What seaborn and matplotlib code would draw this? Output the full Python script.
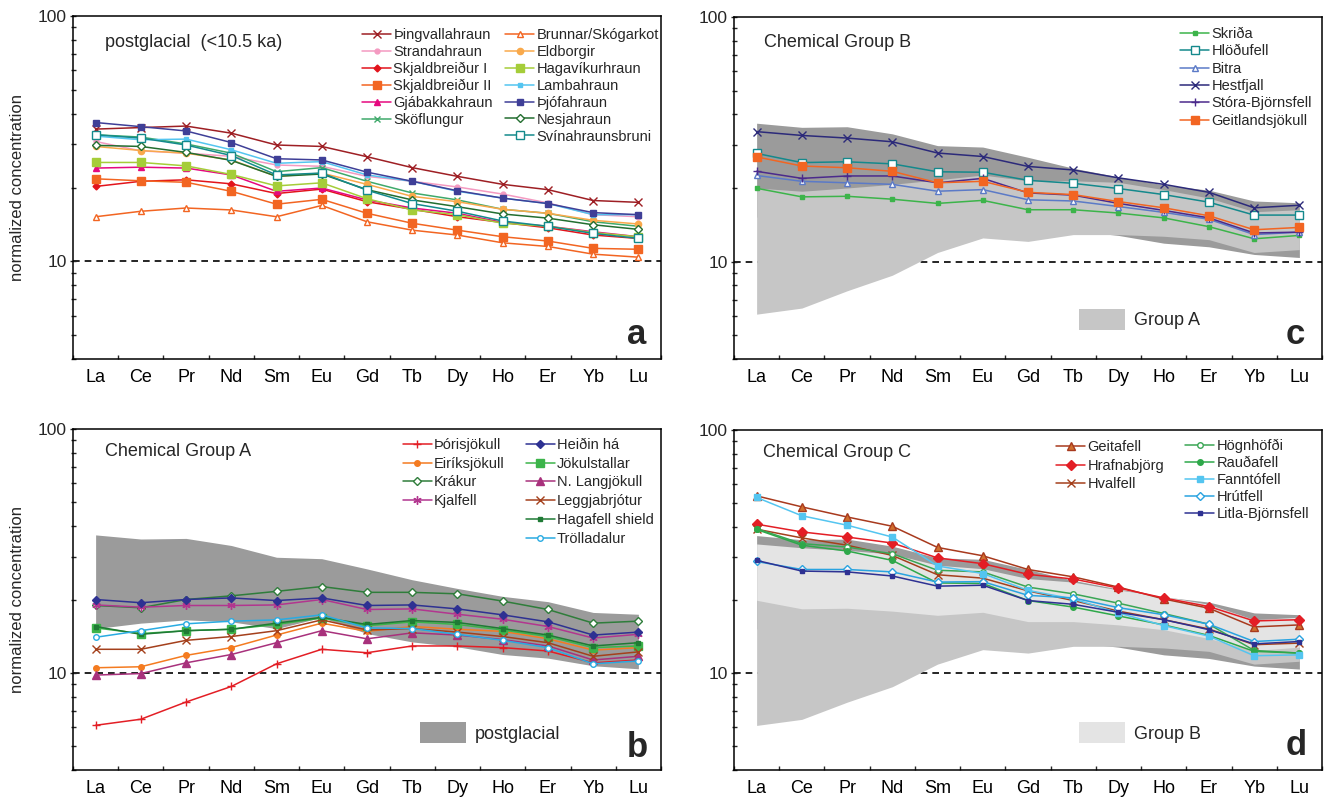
import numpy as np
import matplotlib
matplotlib.use("Agg")
import matplotlib.pyplot as plt
import seaborn as sns
from matplotlib.legend import Legend
from matplotlib.patches import Patch
from matplotlib.ticker import LogLocator, NullFormatter, FuncFormatter

# ---------------- data ----------------
ree = ["La", "Ce", "Pr", "Nd", "Sm", "Eu", "Gd", "Tb", "Dy", "Ho", "Er", "Yb", "Lu"]

# panel a: postglacial (<10.5 ka)
thingvallahraun = [34.6, 35.1, 35.6, 33.3, 29.8, 29.4, 26.7, 24.1, 22.2, 20.6, 19.6, 17.7, 17.4]
strandahraun = [30.8, 28.2, 27.6, 26.8, 24.7, 24.4, 22.2, 21.2, 20.1, 18.8, 17.3, 15.5, 15.2]
skjaldbreidur_1 = [20.2, 21.2, 21.5, 20.7, 18.9, 19.7, 17.5, 16.3, 15.2, 14.4, 13.7, 12.8, 12.4]
skjaldbreidur_2 = [21.7, 21.3, 21.0, 19.3, 17.1, 17.9, 15.7, 14.3, 13.4, 12.6, 12.1, 11.3, 11.2]
gjabakkahraun = [24.0, 24.2, 24.0, 22.5, 19.3, 19.9, 17.8, 16.5, 15.7, 14.4, 13.9, 13.2, 12.6]
skoflungur = [32.8, 32.1, 30.1, 27.6, 23.2, 24.1, 21.2, 19.0, 17.8, 16.3, 15.7, 14.5, 13.9]
brunnar = [15.2, 16.0, 16.5, 16.2, 15.2, 16.9, 14.5, 13.4, 12.8, 11.9, 11.5, 10.7, 10.4]
eldborgir = [29.4, 28.3, 27.6, 25.9, 22.2, 22.9, 20.6, 18.4, 17.5, 16.3, 15.7, 14.7, 14.2]
hagavikurhraun = [25.3, 25.3, 24.5, 22.6, 20.3, 20.9, 18.0, 16.2, 15.5, 14.3, 13.9, 13.1, 12.6]
lambahraun = [32.4, 31.3, 31.5, 28.5, 25.1, 25.5, 22.5, 21.2, 19.3, 18.1, 17.2, 15.5, 15.5]
thjofahraun = [36.8, 35.4, 34.0, 30.5, 26.2, 25.9, 23.1, 21.2, 19.4, 18.1, 17.2, 15.8, 15.5]
nesjahraun = [29.7, 29.4, 27.8, 25.8, 22.2, 22.7, 19.6, 17.8, 16.7, 15.6, 15.0, 14.1, 13.5]
svinahraunsbruni = [32.8, 31.8, 29.8, 27.0, 22.5, 22.9, 19.5, 17.2, 16.0, 14.6, 13.9, 13.0, 12.4]

# panel b: chemical group A
thorisjokull = [6.1, 6.46, 7.6, 8.8, 10.9, 12.5, 12.1, 12.9, 12.9, 12.7, 12.3, 11.0, 11.3]
eiriksjokull = [10.5, 10.6, 11.8, 12.7, 14.3, 16.0, 14.8, 15.5, 15.1, 14.8, 13.8, 12.4, 12.7]
krakur = [18.9, 18.5, 20.0, 20.7, 21.6, 22.6, 21.4, 21.4, 21.1, 19.7, 18.2, 16.0, 16.3]
kjalfell = [19.0, 18.6, 18.9, 18.9, 19.0, 20.0, 18.2, 18.3, 17.4, 16.6, 15.5, 13.9, 14.4]
heidin_ha = [20.0, 19.4, 20.0, 20.3, 19.8, 20.3, 18.9, 19.0, 18.3, 17.3, 16.2, 14.3, 14.7]
jokulstallar = [15.3, 14.5, 14.9, 15.1, 15.8, 16.8, 15.6, 16.2, 15.8, 15.0, 14.1, 12.7, 12.9]
n_langjokull = [9.8, 9.94, 11.0, 11.9, 13.3, 14.9, 13.8, 14.6, 14.3, 13.7, 12.9, 11.3, 11.7]
leggjabrjotur = [12.5, 12.5, 13.6, 14.1, 14.9, 16.5, 15.0, 15.2, 14.7, 14.1, 13.3, 11.7, 12.2]
hagafell_shield = [15.5, 14.4, 14.9, 15.1, 16.0, 16.9, 15.8, 16.4, 16.1, 15.2, 14.3, 12.9, 13.3]
trolladalur = [14.0, 14.9, 15.9, 16.3, 16.5, 17.3, 15.3, 15.2, 14.4, 13.6, 12.7, 10.9, 11.2]

# panel c: chemical group B
skrida = [19.95, 18.4, 18.5, 18.0, 17.3, 17.8, 16.3, 16.3, 15.8, 15.1, 13.9, 12.4, 12.8]
hlodufell = [27.7, 25.4, 25.6, 25.1, 23.3, 23.2, 21.5, 20.9, 19.9, 18.8, 17.5, 15.5, 15.5]
bitra = [22.5, 21.3, 21.0, 20.7, 19.4, 19.7, 17.9, 17.7, 16.8, 15.9, 14.9, 12.9, 13.2]
hestfjall = [34.0, 32.8, 32.0, 30.9, 27.8, 26.9, 24.5, 23.7, 22.0, 20.7, 19.2, 16.6, 17.0]
stora_bjornsfell = [23.4, 21.9, 22.4, 22.4, 21.0, 21.9, 19.1, 18.7, 17.3, 16.2, 15.1, 13.1, 13.2]
geitlandsjokull = [26.8, 24.6, 24.2, 23.4, 21.0, 21.3, 19.2, 18.8, 17.6, 16.6, 15.4, 13.5, 13.8]

# panel d: chemical group C
geitafell = [53.6, 48.3, 43.9, 40.2, 32.9, 30.4, 26.7, 24.9, 22.6, 20.2, 18.5, 15.5, 15.8]
hrafnabjorg = [41.0, 38.1, 36.3, 34.3, 29.8, 28.2, 25.5, 24.4, 22.4, 20.4, 18.8, 16.4, 16.6]
hvalfell = [39.1, 36.0, 33.6, 30.5, 25.4, 24.6, 21.8, 19.9, 18.0, 16.6, 15.2, 13.1, 13.3]
hognhofdi = [39.3, 34.1, 33.0, 31.0, 26.5, 26.1, 22.6, 21.2, 19.4, 17.6, 15.9, 12.4, 12.1]
raudafell = [39.0, 33.6, 31.8, 29.1, 23.5, 23.4, 19.9, 18.7, 17.2, 15.8, 14.3, 12.3, 12.1]
fanntofell = [52.8, 44.4, 40.6, 36.3, 27.6, 25.7, 21.9, 20.2, 17.7, 15.7, 14.2, 11.8, 11.9]
hrutfell = [28.8, 26.7, 26.7, 26.1, 23.7, 23.8, 20.9, 20.4, 18.6, 17.4, 15.9, 13.5, 13.8]
litla_bjornsfell = [29.1, 26.3, 26.1, 25.1, 22.8, 23.0, 19.9, 19.2, 17.8, 16.6, 15.1, 13.2, 13.5]

# ---------------- styles: (name, values, color, marker, size, facecolor) ----------------
W = "white"
panel_a = [
    ("Þingvallahraun", thingvallahraun, "#9e1f24", "x", 5.5, None),
    ("Strandahraun", strandahraun, "#f49ac1", "o", 3.5, None),
    ("Skjaldbreiður I", skjaldbreidur_1, "#e2141c", "D", 3.5, None),
    ("Skjaldbreiður II", skjaldbreidur_2, "#f26522", "s", 5.5, None),
    ("Gjábakkahraun", gjabakkahraun, "#e5097f", "^", 5.0, None),
    ("Sköflungur", skoflungur, "#3fa96b", "x", 5.0, None),
    ("Brunnar/Skógarkot", brunnar, "#f26522", "^", 5.0, W),
    ("Eldborgir", eldborgir, "#f9a94b", "o", 4.5, None),
    ("Hagavíkurhraun", hagavikurhraun, "#a5cd39", "s", 6.0, None),
    ("Lambahraun", lambahraun, "#54c5f0", "s", 3.0, None),
    ("Þjófahraun", thjofahraun, "#3f3f97", "s", 4.0, None),
    ("Nesjahraun", nesjahraun, "#236e30", "D", 4.0, W),
    ("Svínahraunsbruni", svinahraunsbruni, "#148a8c", "s", 6.0, W),
]
panel_b = [
    ("Þórisjökull", thorisjokull, "#e31e25", "+", 6.0, None),
    ("Eiríksjökull", eiriksjokull, "#f47b20", "o", 4.0, None),
    ("Krákur", krakur, "#2f7d3b", "D", 4.0, W),
    ("Kjalfell", kjalfell, "#b2368f", (6, 2, 0), 6.0, None),
    ("Heiðin há", heidin_ha, "#2e3192", "D", 4.5, None),
    ("Jökulstallar", jokulstallar, "#3cb44a", "s", 6.0, None),
    ("N. Langjökull", n_langjokull, "#a8317c", "^", 5.5, None),
    ("Leggjabrjótur", leggjabrjotur, "#a4401c", "x", 5.5, None),
    ("Hagafell shield", hagafell_shield, "#1f7a35", "s", 3.5, None),
    ("Trölladalur", trolladalur, "#29abe2", "o", 4.0, W),
]
panel_c = [
    ("Skriða", skrida, "#3cb44a", "s", 3.5, None),
    ("Hlöðufell", hlodufell, "#14898c", "s", 5.5, W),
    ("Bitra", bitra, "#5b7ac7", "^", 5.0, W),
    ("Hestfjall", hestfjall, "#2c2a7a", "x", 5.5, None),
    ("Stóra-Björnsfell", stora_bjornsfell, "#4b2a8c", "+", 6.0, None),
    ("Geitlandsjökull", geitlandsjokull, "#f26522", "s", 6.0, None),
]
panel_d = [
    ("Geitafell", geitafell, "#a83a1e", "^", 5.5, "#d0702e"),
    ("Hrafnabjörg", hrafnabjorg, "#e31e25", "D", 5.0, None),
    ("Hvalfell", hvalfell, "#a4401c", "x", 5.5, None),
    ("Högnhöfði", hognhofdi, "#3aa655", "o", 4.0, W),
    ("Rauðafell", raudafell, "#2ea84a", "o", 4.0, None),
    ("Fanntófell", fanntofell, "#54c5f0", "s", 4.0, None),
    ("Hrútfell", hrutfell, "#29a3e0", "D", 4.5, W),
    ("Litla-Björnsfell", litla_bjornsfell, "#2e3192", "s", 3.5, None),
]

POST_GRAY = "#9b9b9b"
GROUPA_GRAY = "#c6c6c6"
GROUPB_GRAY = "#e4e4e4"

# ---------------- figure ----------------
sns.set_theme(style="ticks")
plt.rcParams["font.family"] = ["Liberation Sans", "DejaVu Sans"]
plt.rcParams["axes.linewidth"] = 1.1

fig = plt.figure(figsize=(13.25, 8), dpi=100)
W_FIG, H_FIG = 1325.0, 800.0


def make_ax(l, t, r, b):
    return fig.add_axes([l / W_FIG, 1 - b / H_FIG, (r - l) / W_FIG, (b - t) / H_FIG])


ax_a = make_ax(73, 16, 661, 359)
ax_c = make_ax(734, 17, 1322, 359)
ax_b = make_ax(73, 429, 661, 770)
ax_d = make_ax(734, 430, 1322, 770)

x = np.arange(len(ree))


def envelope(series):
    arr = np.array([s[1] for s in series])
    return arr.min(axis=0), arr.max(axis=0)


def setup(ax):
    ax.set_yscale("log")
    ax.set_xlim(-0.5, len(ree) - 0.5)
    ax.set_ylim(4, 100)
    ax.axhline(10, color="black", lw=1.2, dashes=(4, 3), zorder=0.5)
    ax.set_xticks(np.arange(-0.5, len(ree), 1.0))
    ax.set_xticklabels([])
    ax.set_xticks(x, minor=True)
    ax.set_xticklabels(ree, minor=True)
    ax.tick_params(axis="x", which="major", direction="in", length=3, width=1.0,
                   bottom=True, top=False)
    ax.tick_params(axis="x", which="minor", length=0, pad=7, labelsize=13, colors="black")
    ax.yaxis.set_major_locator(LogLocator(base=10))
    ax.yaxis.set_minor_locator(LogLocator(base=10, subs=np.arange(2, 10)))
    ax.yaxis.set_minor_formatter(NullFormatter())
    ax.yaxis.set_major_formatter(FuncFormatter(lambda v, p: f"{v:g}"))
    ax.tick_params(axis="y", which="major", direction="inout", length=4.5, width=1.0,
                   labelsize=12.5, pad=2, left=True, right=False)
    ax.tick_params(axis="y", which="minor", direction="inout", length=3.6, width=1.0,
                   left=True, right=False)
    for s in ax.spines.values():
        s.set_visible(True)
        s.set_color("black")
        s.set_linewidth(1.1)
    ax.set_facecolor("white")


def draw_series(ax, series):
    handles = {}
    for name, vals, color, marker, ms, mfc in series:
        sns.lineplot(x=x, y=vals, ax=ax, color=color, marker=marker, markersize=ms,
                     markeredgecolor=color, markerfacecolor=(mfc if mfc else color),
                     markeredgewidth=1.0, linewidth=1.1, label=name, legend=False,
                     zorder=3)
        handles[name] = ax.lines[-1]
    ax.set_xlabel("")
    ax.set_ylabel("")
    return handles


def col_legend(ax, handles, names, xa, ya, spacing):
    leg = Legend(ax, [handles[n] for n in names], names, loc="upper left",
                 bbox_to_anchor=(xa, ya), bbox_transform=ax.transAxes, frameon=False,
                 fontsize=10.5, handlelength=2.0, handletextpad=0.15,
                 labelspacing=spacing, borderpad=0, borderaxespad=0, numpoints=1)
    ax.add_artist(leg)


def band_legend(ax, color, label, xa, ya):
    leg = Legend(ax, [Patch(facecolor=color, edgecolor="none")], [label],
                 loc="upper left", bbox_to_anchor=(xa, ya), bbox_transform=ax.transAxes,
                 frameon=False, fontsize=13, handlelength=2.55, handleheight=1.44,
                 handletextpad=0.5, borderpad=0, borderaxespad=0)
    ax.add_artist(leg)


post_lo, post_hi = envelope(panel_a)
ga_lo, ga_hi = envelope(panel_b)
gb_lo, gb_hi = envelope(panel_c)

# panel a
setup(ax_a)
ha = draw_series(ax_a, panel_a)
names_a = [s[0] for s in panel_a]
col_legend(ax_a, ha, names_a[:6], 0.4915, 0.965, 0.2)
col_legend(ax_a, ha, names_a[6:], 0.7347, 0.965, 0.2)
ax_a.text(0.054, 0.924, "postglacial  (<10.5 ka)", transform=ax_a.transAxes,
          ha="left", va="center", fontsize=13)
ax_a.text(0.959, 0.044, "a", transform=ax_a.transAxes, ha="center", va="baseline",
          fontsize=25, fontweight="bold")

# panel b
setup(ax_b)
ax_b.fill_between(x, post_lo, post_hi, color=POST_GRAY, lw=0, zorder=1)
hb = draw_series(ax_b, panel_b)
names_b = [s[0] for s in panel_b]
col_legend(ax_b, hb, names_b[:4], 0.561, 0.974, 0.33)
col_legend(ax_b, hb, names_b[4:], 0.770, 0.974, 0.33)
band_legend(ax_b, POST_GRAY, "postglacial", 0.590, 0.141)
ax_b.text(0.054, 0.933, "Chemical Group A", transform=ax_b.transAxes,
          ha="left", va="center", fontsize=13)
ax_b.text(0.959, 0.038, "b", transform=ax_b.transAxes, ha="center", va="baseline",
          fontsize=25, fontweight="bold")

# panel c
setup(ax_c)
ax_c.fill_between(x, post_lo, post_hi, color=POST_GRAY, lw=0, zorder=1)
ax_c.fill_between(x, ga_lo, ga_hi, color=GROUPA_GRAY, lw=0, zorder=1.1)
hc = draw_series(ax_c, panel_c)
names_c = [s[0] for s in panel_c]
col_legend(ax_c, hc, names_c, 0.7585, 0.971, 0.23)
band_legend(ax_c, GROUPA_GRAY, "Group A", 0.587, 0.147)
ax_c.text(0.051, 0.924, "Chemical Group B", transform=ax_c.transAxes,
          ha="left", va="center", fontsize=13)
ax_c.text(0.954, 0.044, "c", transform=ax_c.transAxes, ha="center", va="baseline",
          fontsize=25, fontweight="bold")

# panel d
setup(ax_d)
ax_d.fill_between(x, post_lo, post_hi, color=POST_GRAY, lw=0, zorder=1)
ax_d.fill_between(x, ga_lo, ga_hi, color=GROUPA_GRAY, lw=0, zorder=1.1)
ax_d.fill_between(x, gb_lo, gb_hi, color=GROUPB_GRAY, lw=0, zorder=1.2)
hd = draw_series(ax_d, panel_d)
names_d = [s[0] for s in panel_d]
col_legend(ax_d, hd, names_d[:3], 0.5476, 0.971, 0.33)
col_legend(ax_d, hd, names_d[3:], 0.767, 0.974, 0.2)
band_legend(ax_d, GROUPB_GRAY, "Group B", 0.587, 0.141)
ax_d.text(0.049, 0.933, "Chemical Group C", transform=ax_d.transAxes,
          ha="left", va="center", fontsize=13)
ax_d.text(0.956, 0.044, "d", transform=ax_d.transAxes, ha="center", va="baseline",
          fontsize=25, fontweight="bold")

# y labels (left column only)
fig.text(18 / W_FIG, 1 - 187.5 / H_FIG, "normalized concentration", rotation=90,
         ha="center", va="center", fontsize=12)
fig.text(18 / W_FIG, 1 - 599.5 / H_FIG, "normalized concentration", rotation=90,
         ha="center", va="center", fontsize=12)

fig.savefig("out.png", dpi=100, facecolor="white")
